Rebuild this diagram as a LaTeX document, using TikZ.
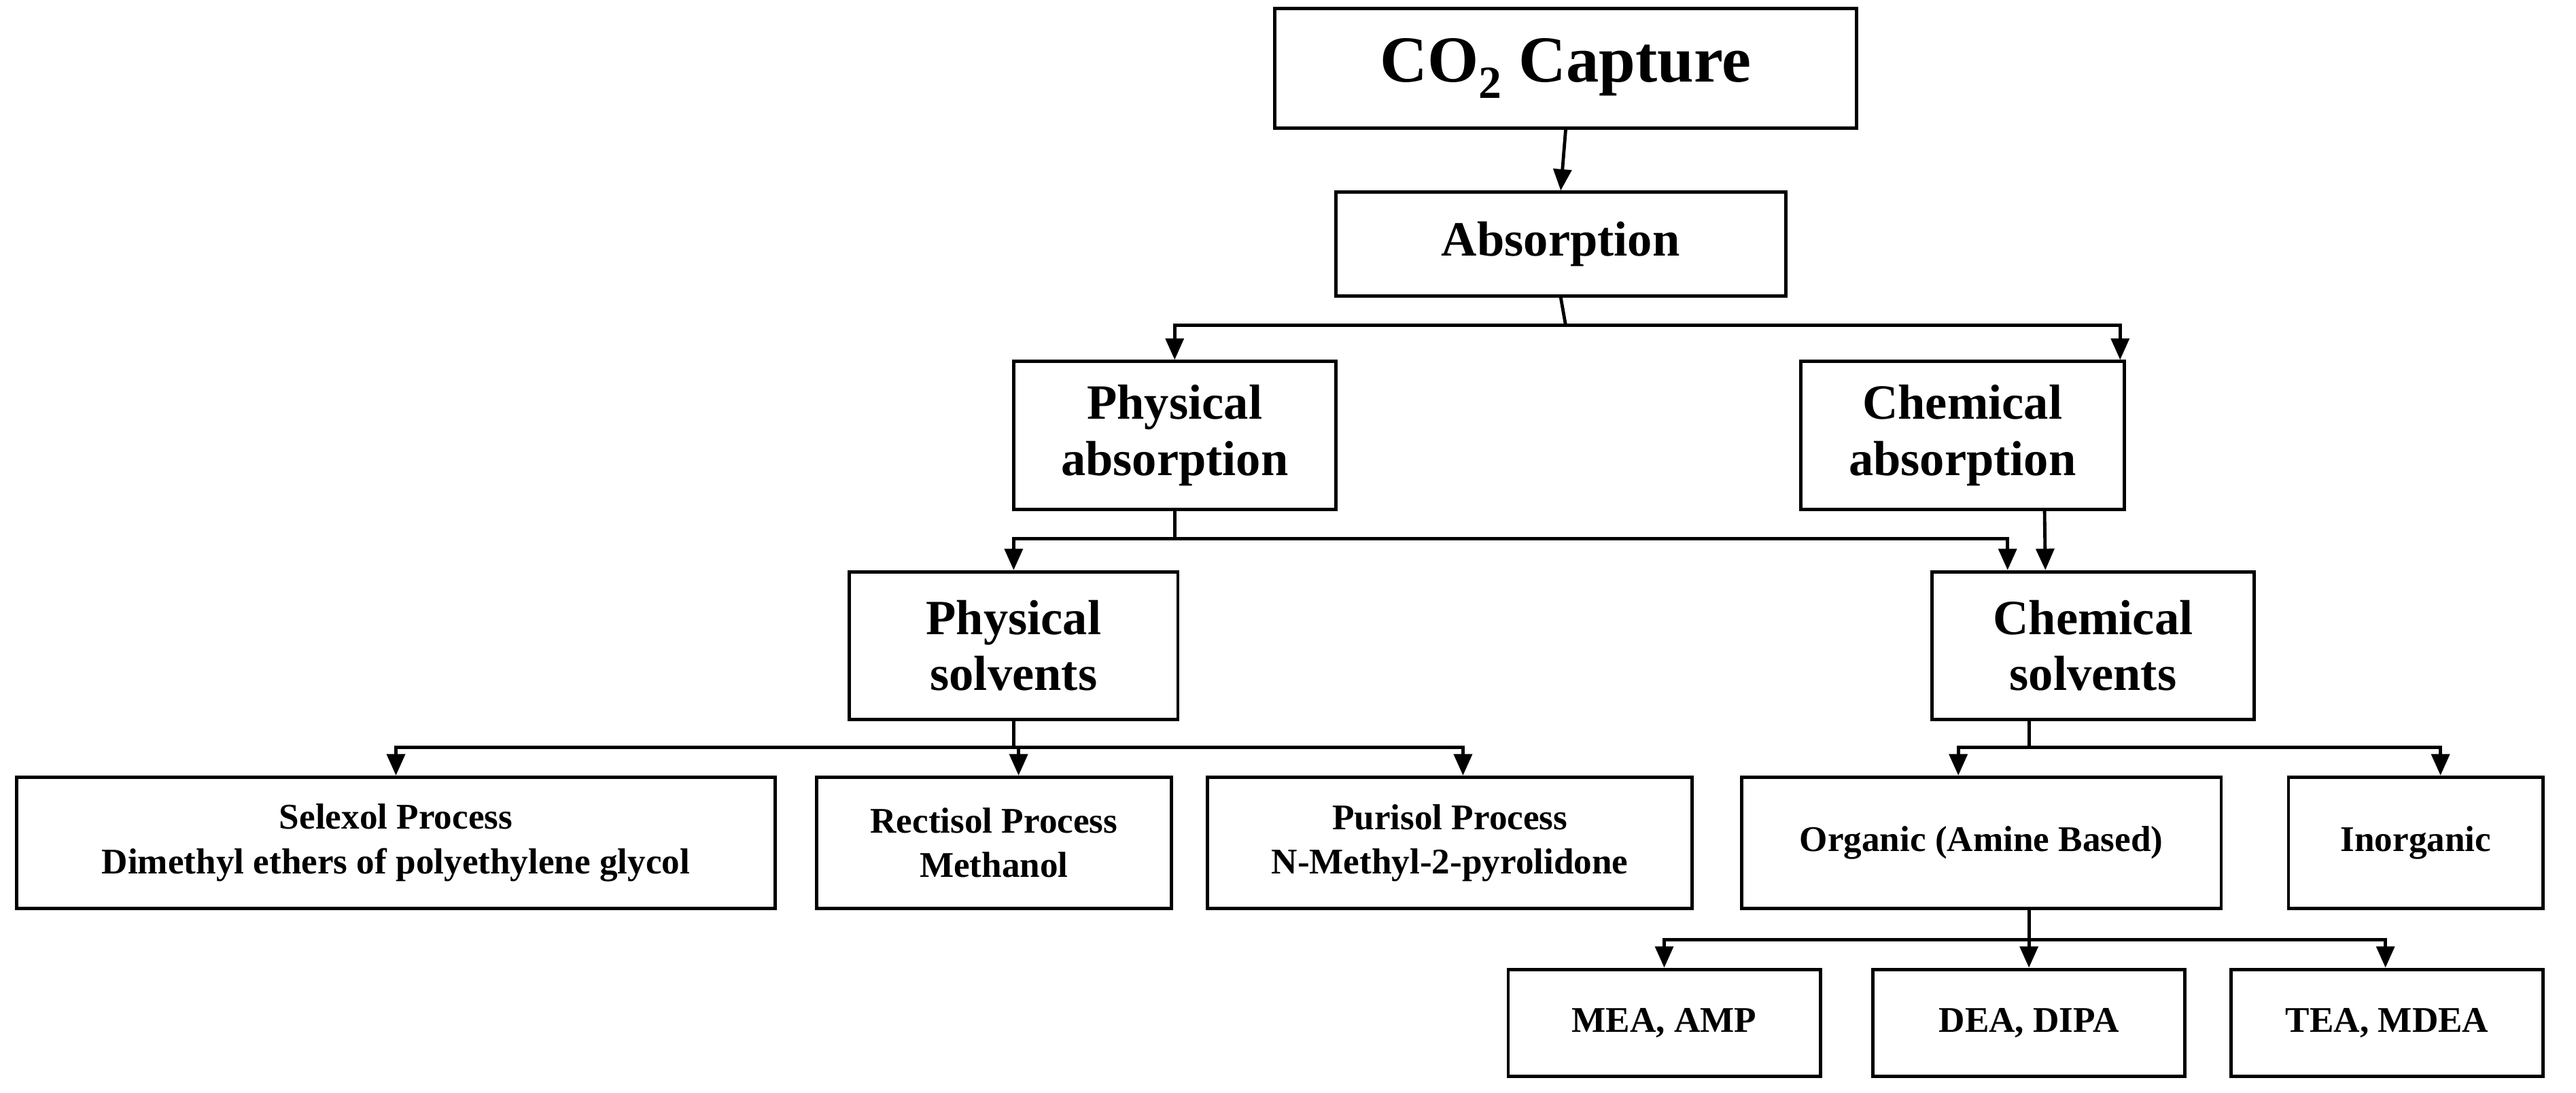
\documentclass[tikz,border=0pt]{standalone}
\usepackage{fontspec}
\setmainfont{Liberation Serif}
\usetikzlibrary{arrows.meta}
\begin{document}
\begin{tikzpicture}[x=1pt,y=-1pt,
  box/.style={draw,line width=2pt,inner sep=0pt,align=center,font=\bfseries\fontsize{30}{34}\selectfont},
  sbox/.style={box,font=\bfseries\fontsize{22}{27}\selectfont},
  ln/.style={line width=2pt},
  ar/.style={ln,-{Triangle[length=13pt,width=11pt]}}]
\useasboundingbox (0,0) rectangle (1568,665);
\newcommand{\bx}[7]{\node[#1,minimum width=#4-#3,minimum height=#6-#5] (#2) at ({(#3+#4)/2},{(#5+#6)/2}) {#7};}
\bx{box,font=\bfseries\fontsize{40}{44}\selectfont}{co}{776}{1130}{5}{78}{CO\textsubscript{2} Capture}
\bx{box}{abs}{813}{1087}{117}{180}{Absorption}
\bx{box}{pa}{617}{813}{220}{310}{Physical\\absorption}
\bx{box}{ca}{1096}{1293}{220}{310}{Chemical\\absorption}
\bx{box}{ps}{517}{717}{348}{438}{Physical\\solvents}
\bx{box}{cs}{1176}{1372}{348}{438}{Chemical\\solvents}
\bx{sbox}{sel}{10}{472}{473}{553}{Selexol Process\\Dimethyl ethers of polyethylene glycol}
\bx{sbox}{rec}{497}{713}{473}{553}{Rectisol Process\\Methanol}
\bx{sbox}{pur}{735}{1030}{473}{553}{Purisol Process\\N-Methyl-2-pyrolidone}
\bx{sbox}{org}{1060}{1352}{473}{553}{Organic (Amine Based)}
\bx{sbox}{ino}{1393}{1548}{473}{553}{Inorganic}
\bx{sbox}{mea}{918}{1108}{590}{655}{MEA, AMP}
\bx{sbox}{dea}{1140}{1330}{590}{655}{DEA, DIPA}
\bx{sbox}{tea}{1358}{1548}{590}{655}{TEA, MDEA}
% connectors
\draw[ar] (co.south) -- (abs.north);
\coordinate (j1) at (953,198);
\draw[ln] (abs.south) -- (j1);
\draw[ar] (j1) -| (pa.north);
\draw[ar] (j1) -| ([xshift=96pt]ca.north);
\coordinate (j2) at (715,328);
\draw[ln] (pa.south) -- (j2);
\draw[ar] (j2) -| (ps.north);
\draw[ar] (j2) -| ([xshift=-52pt]cs.north);
\draw[ar] ([xshift=50pt]ca.south) -- ([xshift=-29pt]cs.north);
\coordinate (j3) at (617,455);
\draw[ln] (ps.south) -- (j3);
\draw[ar] (j3) -| (sel.north);
\draw[ar] (j3) -| ([xshift=15pt]rec.north);
\draw[ar] (j3) -| ([xshift=8pt]pur.north);
\coordinate (j4) at (1235,455);
\draw[ln] (1235,438) -- (j4);
\draw[ar] (j4) -| ([xshift=-14pt]org.north);
\draw[ar] (j4) -| ([xshift=15pt]ino.north);
\coordinate (j5) at (1235,572);
\draw[ln] (1235,553) -- (j5);
\draw[ar] (j5) -| (mea.north);
\draw[ar] (j5) -| (dea.north);
\draw[ar] (j5) -| ([xshift=-1pt]tea.north);
\end{tikzpicture}
\end{document}
